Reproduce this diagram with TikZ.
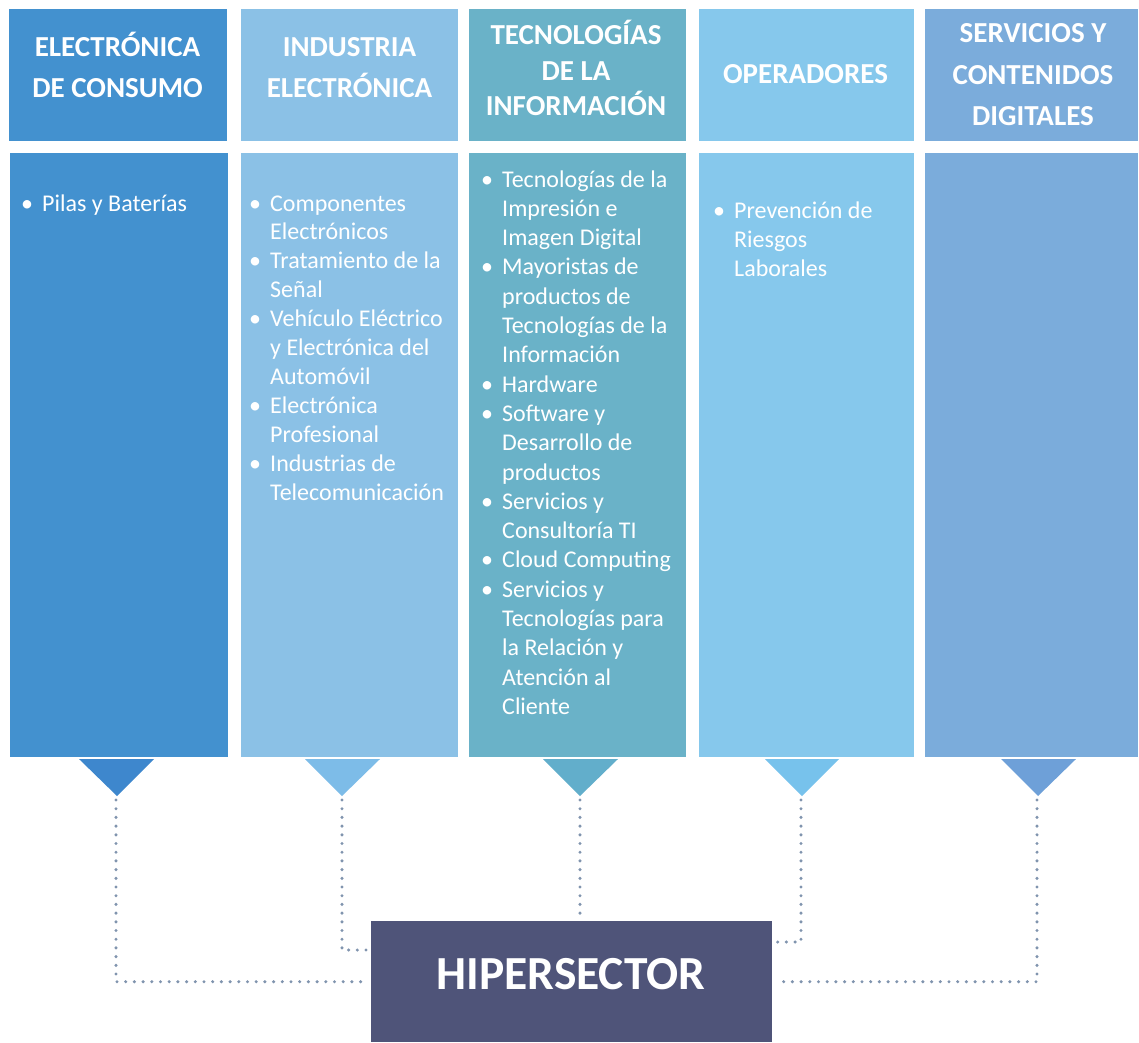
\documentclass[tikz,border=0pt]{standalone}
\usepackage{fontspec}
\setmainfont{Carlito}

\definecolor{colA}{RGB}{67,145,207}
\definecolor{colB}{RGB}{139,193,230}
\definecolor{colC}{RGB}{106,178,200}
\definecolor{colD}{RGB}{134,200,236}
\definecolor{colE}{RGB}{123,172,219}
\definecolor{triA}{RGB}{62,135,205}
\definecolor{triB}{RGB}{125,188,232}
\definecolor{triC}{RGB}{98,174,203}
\definecolor{triD}{RGB}{119,194,236}
\definecolor{triE}{RGB}{110,160,216}
\definecolor{hubcol}{RGB}{79,84,121}
\definecolor{dotcol}{RGB}{128,148,174}

\tikzset{
	headbox/.style={anchor=north west, inner sep=0pt, minimum height=132pt},
	bodybox/.style={anchor=north west, inner sep=0pt, minimum height=604pt},
	headtext/.style={anchor=base, inner sep=0pt, text=white, font=\fontsize{29}{35}\selectfont\bfseries},
	item/.style={anchor=base west, inner sep=0pt, text=white, font=\fontsize{24}{29}\selectfont},
	bul/.style={anchor=base, inner sep=0pt, text=white, font=\fontsize{24}{29}\selectfont},
	dots/.style={draw=dotcol, line width=3.4pt, line cap=round, dash pattern=on 0pt off 8.7pt}
}

\begin{document}
\begin{tikzpicture}[x=1pt,y=-1pt]
	\useasboundingbox (0,0) rectangle (1139,1042);

	% column heads
	\node[headbox, fill=colA, minimum width=218pt] (hA) at (9,9) {};
	\node[headbox, fill=colB, minimum width=217pt] (hB) at (241,9) {};
	\node[headbox, fill=colC, minimum width=217pt] (hC) at (469,9) {};
	\node[headbox, fill=colD, minimum width=215pt] (hD) at (699,9) {};
	\node[headbox, fill=colE, minimum width=213pt] (hE) at (925,9) {};

	\node[headtext] (tA1) at (117.5,56) {ELECTRÓNICA};
	\node[headtext] (tA2) at (117.5,97) {DE CONSUMO};
	\node[headtext] (tB1) at (349.5,56.5) {INDUSTRIA};
	\node[headtext] (tB2) at (349.5,97.5) {ELECTRÓNICA};
	\node[headtext] (tC1) at (576,44.5) {TECNOLOGÍAS};
	\node[headtext] (tC2) at (576,80.5) {DE LA};
	\node[headtext] (tC3) at (576,115.5) {INFORMACIÓN};
	\node[headtext] (tD1) at (805.5,83.5) {OPERADORES};
	\node[headtext] (tE1) at (1033,42.5) {SERVICIOS Y};
	\node[headtext] (tE2) at (1033,84) {CONTENIDOS};
	\node[headtext] (tE3) at (1033,125) {DIGITALES};

	% column bodies
	\node[bodybox, fill=colA, minimum width=218pt] (bA) at (10,153) {};
	\node[bodybox, fill=colB, minimum width=217pt] (bB) at (241,153) {};
	\node[bodybox, fill=colC, minimum width=217pt] (bC) at (469,153) {};
	\node[bodybox, fill=colD, minimum width=215pt] (bD) at (699,153) {};
	\node[bodybox, fill=colE, minimum width=213pt] (bE) at (925,153) {};

	% items
	\node[bul] (dA0) at (27,211) {•};
	\node[item] (iA0) at (42,211) {Pilas y Baterías};

	\foreach \bl/\txt [count=\i from 0] in {1/Componentes, 0/Electrónicos,
		1/Tratamiento de la, 0/Señal, 1/Vehículo Eléctrico, 0/y Electrónica del,
		0/Automóvil, 1/Electrónica, 0/Profesional, 1/Industrias de, 0/Telecomunicación}{
		\node[item] (iB\i) at (270,211+28.9*\i) {\txt};
		\ifnum\bl=1 \node[bul] (dB\i) at (255,211+28.9*\i) {•}; \fi
	}

	\foreach \bl/\txt [count=\i from 0] in {1/Tecnologías de la, 0/Impresión e,
		0/Imagen Digital, 1/Mayoristas de, 0/productos de, 0/Tecnologías de la,
		0/Información, 1/Hardware, 1/Software y, 0/Desarrollo de, 0/productos,
		1/Servicios y, 0/Consultoría TI, 1/Cloud Computing, 1/Servicios y,
		0/Tecnologías para, 0/la Relación y, 0/Atención al, 0/Cliente}{
		\node[item] (iC\i) at (502,187+29.3*\i) {\txt};
		\ifnum\bl=1 \node[bul] (dC\i) at (487,187+29.3*\i) {•}; \fi
	}

	\foreach \bl/\txt [count=\i from 0] in {1/Prevención de, 0/Riesgos, 0/Laborales}{
		\node[item] (iD\i) at (734,218+29*\i) {\txt};
		\ifnum\bl=1 \node[bul] (dD\i) at (719,218+29*\i) {•}; \fi
	}

	% hipersector
	\node[anchor=north west, inner sep=0pt, fill=hubcol, minimum width=401pt, minimum height=121pt] (hub) at (371,921) {};
	\node[anchor=base, inner sep=0pt, text=white, font=\fontsize{47.5}{57}\selectfont\bfseries] (hubtext) at (571,989) {HIPERSECTOR};

	% arrows down
	\fill[triA] (79,759) -- (154,759) -- (117,796) -- cycle;
	\fill[triB] (305,759) -- (380,759) -- (342,796) -- cycle;
	\fill[triC] (543,759) -- (618,759) -- (580,796) -- cycle;
	\fill[triD] (765,759) -- (839,759) -- (802,796) -- cycle;
	\fill[triE] (1001,759) -- (1076,759) -- (1038,796) -- cycle;

	\coordinate (pA) at (116,800);
	\coordinate (pB) at (342,800);
	\coordinate (pC) at (580,800);
	\coordinate (pD) at (801,800);
	\coordinate (pE) at (1037,800);
	\coordinate (jB) at (366,950);
	\coordinate (jD) at (777,942);

	\draw[dots] (pA) |- ([xshift=-5pt]hub.west);
	\draw[dots] (pB) |- (jB);
	\draw[dots] (pC) -- (pC |- hub.north);
	\draw[dots] (pD) |- (jD);
	\draw[dots] (pE) |- ([xshift=5pt]hub.east);
\end{tikzpicture}
\end{document}
